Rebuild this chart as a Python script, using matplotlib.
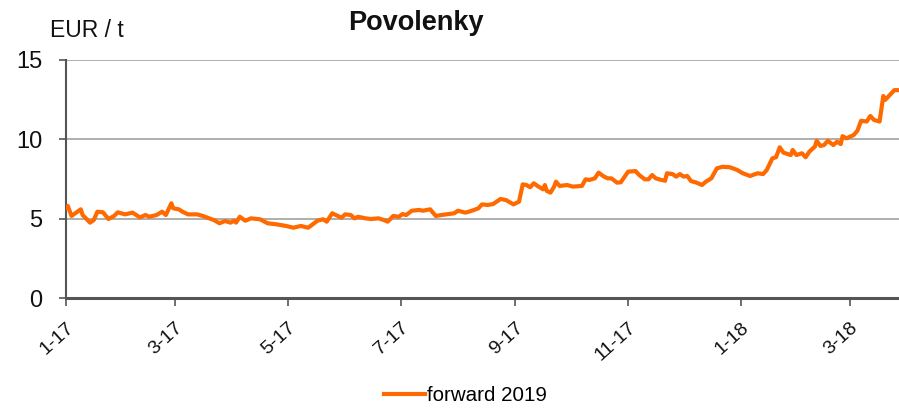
import matplotlib
matplotlib.use("Agg")
import matplotlib.pyplot as plt
import pandas as pd

plt.rcParams['font.family'] = ['Liberation Sans', 'DejaVu Sans']

title = "Povolenky"
unit_label = "EUR / t"
series_name = "forward 2019"
start_date = "2017-01-01"

# trading days, counted as days since 2017-01-01
day_offsets = [
    0, 1, 3, 5, 8, 9, 13, 15, 17, 20, 23, 26, 28, 32, 36, 40, 43, 45, 49, 52,
    54, 57, 58, 61, 63, 66, 71, 74, 80, 83, 86, 89, 91, 92, 94, 97, 100, 105,
    109, 114, 119, 123, 127, 131, 136, 139, 141, 144, 146, 149, 151, 154, 156,
    158, 162, 165, 169, 172, 174, 177, 180, 182, 184, 187, 191, 193, 197, 198,
    200, 203, 207, 210, 212, 216, 219, 223, 225, 228, 231, 235, 238, 242, 245,
    247, 249, 251, 253, 255, 258, 259, 260, 262, 264, 265, 267, 271, 274, 279,
    281, 283, 286, 288, 291, 293, 295, 298, 300, 304, 308, 310, 313, 315, 317,
    319, 322, 324, 325, 328, 330, 332, 334, 336, 338, 341, 344, 346, 349, 352,
    355, 359, 363, 366, 370, 374, 377, 379, 382, 384, 386, 388, 392, 393, 395,
    398, 400, 402, 405, 406, 408, 410, 412, 415, 417, 419, 420, 422, 426, 428,
    430, 433, 435, 437, 440, 442, 443, 446, 448, 450,
]
prices = [
    5.67, 5.80, 5.17, 5.34, 5.59, 5.23, 4.75, 4.91, 5.44, 5.40, 4.98, 5.17,
    5.40, 5.27, 5.38, 5.08, 5.23, 5.12, 5.23, 5.44, 5.23, 5.97, 5.65, 5.59,
    5.44, 5.27, 5.27, 5.17, 4.91, 4.71, 4.85, 4.75, 4.87, 4.75, 5.12, 4.87,
    5.02, 4.96, 4.71, 4.64, 4.54, 4.43, 4.54, 4.43, 4.87, 4.96, 4.81, 5.34,
    5.23, 5.06, 5.27, 5.23, 5.02, 5.12, 5.02, 4.98, 5.02, 4.91, 4.81, 5.17,
    5.12, 5.29, 5.23, 5.50, 5.55, 5.50, 5.59, 5.44, 5.17, 5.23, 5.29, 5.34,
    5.50, 5.38, 5.48, 5.65, 5.90, 5.86, 5.92, 6.24, 6.17, 5.90, 6.07, 7.16,
    7.12, 6.98, 7.23, 7.06, 6.85, 7.12, 6.75, 6.64, 7.02, 7.33, 7.06, 7.12,
    7.02, 7.06, 7.48, 7.44, 7.54, 7.90, 7.65, 7.54, 7.54, 7.27, 7.29, 7.96,
    8.00, 7.75, 7.48, 7.48, 7.75, 7.54, 7.44, 7.39, 7.86, 7.81, 7.65, 7.81,
    7.65, 7.69, 7.37, 7.27, 7.12, 7.33, 7.54, 8.17, 8.27, 8.24, 8.07, 7.86,
    7.69, 7.86, 7.81, 8.07, 8.80, 8.87, 9.50, 9.16, 9.01, 9.33, 9.01, 9.12,
    8.87, 9.22, 9.54, 9.91, 9.58, 9.64, 9.91, 9.64, 9.85, 9.70, 10.20, 10.06,
    10.27, 10.54, 11.17, 11.12, 11.47, 11.22, 11.12, 12.73, 12.48, 12.85,
    13.10, 13.10,
]
tick_dates = ["2017-01-01", "2017-03-01", "2017-05-01", "2017-07-01",
              "2017-09-01", "2017-11-01", "2018-01-01", "2018-03-01"]
tick_labels = ["1-17", "3-17", "5-17", "7-17", "9-17", "11-17", "1-18", "3-18"]
y_ticks = [0, 5, 10, 15]

dates = pd.Timestamp(start_date) + pd.to_timedelta(day_offsets, unit="D")

fig = plt.figure(figsize=(8.99, 4.08), dpi=100)
ax = fig.add_axes([0.0734, 0.2696, 0.9266, 0.5834])

ax.plot(dates, prices, color="#ff6a00", lw=3.0, label=series_name,
        solid_joinstyle="round", zorder=3)

ax.set_ylim(0, 15)
ax.set_xlim(pd.Timestamp(start_date),
            pd.Timestamp(start_date) + pd.Timedelta(days=450.5))
ax.set_yticks(y_ticks)
ax.set_yticklabels([str(v) for v in y_ticks], fontsize=17)
ax.yaxis.grid(True, color="#a8a8a8", lw=1.3)
ax.set_axisbelow(True)

ax.set_xticks(pd.to_datetime(tick_dates))
ax.set_xticklabels(tick_labels, rotation=42, ha="right",
                   rotation_mode="anchor", fontsize=14)

for s in ["top", "right"]:
    ax.spines[s].set_visible(False)
ax.spines["left"].set_color("#555555")
ax.spines["left"].set_linewidth(1.5)
ax.spines["bottom"].set_color("#555555")
ax.spines["bottom"].set_linewidth(2.2)
ax.tick_params(axis="y", length=5, width=1.2, color="#555555", pad=12,
               labelcolor="#111111")
ax.tick_params(axis="x", length=6, width=1.2, color="#555555", pad=9,
               labelcolor="#111111")

fig.text(0.463, 0.943, title, ha="center", va="center", fontsize=19.5,
         fontweight="bold", color="#111111")
fig.text(0.0556, 0.925, unit_label, ha="left", va="center", fontsize=16.5,
         color="#111111")

fig.legend(loc="center", bbox_to_anchor=(0.518, 0.03), frameon=False,
           fontsize=14.8, handlelength=2.0, handletextpad=0.1,
           borderaxespad=0)

fig.savefig("out.png", dpi=100)
